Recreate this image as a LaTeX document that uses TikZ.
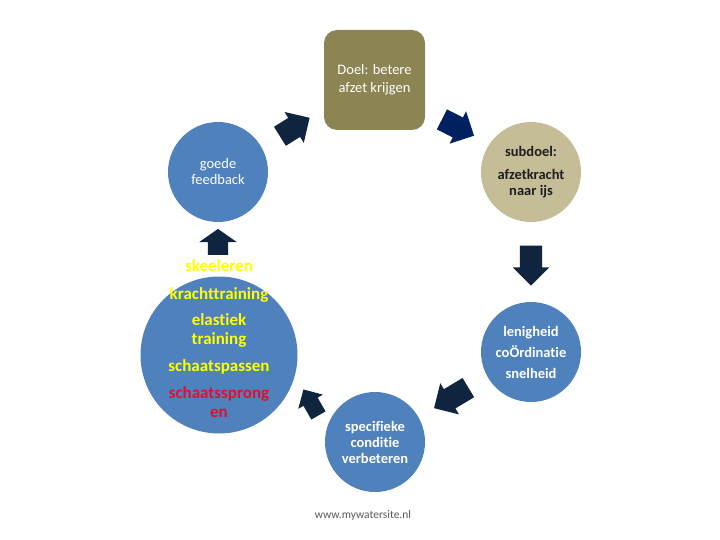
\documentclass[tikz,border=0pt]{standalone}
\usepackage{fontspec}
\setmainfont{Carlito}[Ligatures=NoCommon]
\usetikzlibrary{shapes.arrows}
\definecolor{boxolive}{RGB}{140,132,82}
\definecolor{tanbg}{RGB}{196,189,151}
\definecolor{cblue}{RGB}{79,129,189}
\definecolor{navydark}{RGB}{15,36,62}
\definecolor{navyblue}{RGB}{0,32,96}
\definecolor{txtyellow}{RGB}{255,255,0}
\definecolor{txtred}{RGB}{220,18,44}
\definecolor{txtgray}{RGB}{89,89,89}
\begin{document}
\begin{tikzpicture}[x=1pt,y=-1pt,
  bubble/.style={circle, draw=none, fill=cblue, minimum size=100pt, inner sep=0pt, align=center, text=white},
  blockarrow/.style={single arrow, draw=none, fill=navydark, inner xsep=0pt, single arrow head indent=0pt, outer sep=0pt},
  bigtxt/.style={font=\fontsize{17}{19}\selectfont\bfseries, align=center}
]
\useasboundingbox (0,0) rectangle (720,540);

% main shapes
\node[rectangle, rounded corners=13pt, fill=boxolive, minimum width=101pt, minimum height=100pt, inner sep=0pt,
      align=center, text=white, font=\fontsize{14.5}{18}\selectfont] (doel) at (374.5,80) {Doel: betere\\afzet krijgen};

\node[bubble, fill=tanbg, text=black!88, font=\fontsize{14.5}{16}\selectfont\bfseries] (subdoel) at (531,172)
  {subdoel:\\[7pt]afzetkracht\\naar ijs};

\node[bubble, font=\fontsize{14.5}{21}\selectfont\bfseries] (lenig) at (531,352)
  {lenigheid\\coÖrdinatie\\snelheid};

\node[bubble, font=\fontsize{14.5}{16}\selectfont\bfseries] (spec) at (375,442)
  {specifieke\\conditie\\verbeteren};

\node[bubble, minimum size=157pt] (big) at (219,355) {};

\node[bubble, font=\fontsize{14.5}{16}\selectfont] (goede) at (218,172)
  {goede\\feedback};

\node[bigtxt] (bigtext) at (219,339)
  {\textcolor{txtyellow}{skeeleren}\\[9pt]
   \textcolor{txtyellow}{krachttraining}\\[7pt]
   \textcolor{txtyellow}{elastiek}\\
   \textcolor{txtyellow}{training}\\[8pt]
   \textcolor{txtyellow}{schaatspassen}\\[8pt]
   \textcolor{txtred}{schaatssprong}\\
   \textcolor{txtred}{en}};

% block arrows
\node[blockarrow, rotate=90, minimum height=26pt, inner ysep=10pt, single arrow head extend=8.5pt,
      single arrow tip angle=110] (a1) at (218,245.5) {};
\node[blockarrow, rotate=32, minimum height=35pt, inner ysep=11pt, single arrow head extend=7pt] (a2) at (290,130) {};
\node[blockarrow, fill=navyblue, rotate=-27, minimum height=36pt, inner ysep=11pt, single arrow head extend=7pt] (a3) at (453,125) {};
\node[blockarrow, rotate=-90, minimum height=40pt, inner ysep=11pt, single arrow head extend=7pt] (a4) at (531,260) {};
\node[blockarrow, rotate=211, minimum height=40pt, inner ysep=11pt, single arrow head extend=7pt] (a5) at (456,395) {};
\node[blockarrow, rotate=120, minimum height=30pt, inner ysep=8pt, single arrow head extend=6pt] (a6) at (313,406) {};

% footer
\node[text=txtgray, font=\fontsize{11.5}{13}\selectfont] (site) at (363,515) {www.mywatersite.nl};
\end{tikzpicture}
\end{document}
